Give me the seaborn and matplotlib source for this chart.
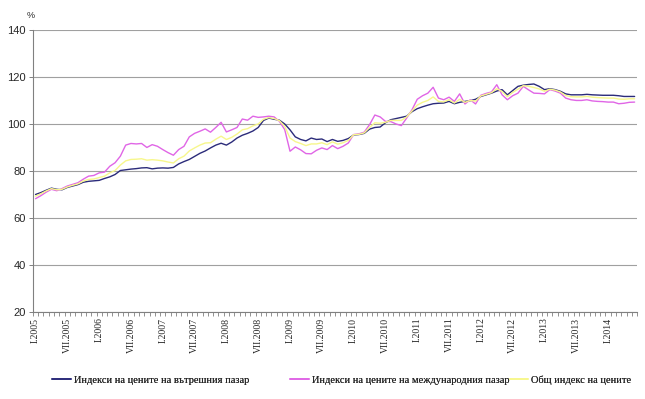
import numpy as np
import pandas as pd
import matplotlib
matplotlib.use("Agg")
import matplotlib.pyplot as plt
import seaborn as sns

# ── Data (monthly, I.2005 – VI.2014) ─────────────────────────────────────────

ROMAN = ["I", "II", "III", "IV", "V", "VI", "VII", "VIII", "IX", "X", "XI", "XII"]
months = [f"{ROMAN[m]}.{y}" for y in range(2005, 2015) for m in range(12)][:114]

domestic = [
    70.0, 70.8, 71.8, 72.7, 72.2, 72.0, 73.0, 73.6, 74.2, 75.2, 75.6, 75.8,
    76.0, 76.8, 77.5, 78.5, 80.2, 80.5, 80.8, 81.0, 81.3, 81.4, 80.9, 81.2,
    81.3, 81.2, 81.5, 83.0, 84.0, 84.9, 86.2, 87.5, 88.5, 89.8, 91.0, 91.8,
    91.0, 92.3, 94.0, 95.2, 96.0, 97.0, 98.5, 101.5, 102.5, 102.0, 101.6, 100.0,
    97.5, 94.5, 93.4, 92.8, 94.0, 93.4, 93.6, 92.5, 93.4, 92.6, 93.0, 93.8,
    95.3, 95.5, 96.0, 97.8, 98.5, 98.7, 100.5, 101.8, 102.3, 102.8, 103.3, 105.2,
    106.5, 107.3, 108.0, 108.6, 108.8, 108.9, 109.6, 108.6, 109.2, 109.6, 109.9, 110.5,
    111.7, 112.4, 113.1, 114.0, 114.6, 112.4, 114.2, 116.0, 116.5, 116.8, 117.0, 116.0,
    114.6, 115.0, 114.6, 113.9, 112.8, 112.4, 112.4, 112.4, 112.6, 112.4, 112.3, 112.2,
    112.2, 112.2, 112.0, 111.7, 111.7, 111.7,
]

international = [
    68.2, 69.5, 71.0, 72.2, 71.6, 72.5, 73.6, 74.3, 75.0, 76.5, 77.8, 78.1,
    79.2, 79.5, 82.0, 83.5, 86.3, 91.0, 91.7, 91.5, 91.7, 90.0, 91.2, 90.5,
    89.1, 87.8, 86.7, 89.1, 90.5, 94.5, 96.0, 96.9, 97.9, 96.5, 98.5, 100.7,
    96.6, 97.5, 98.5, 102.1, 101.6, 103.3, 102.8, 103.0, 103.3, 103.0, 101.1, 97.6,
    88.4, 90.2, 89.0, 87.4, 87.3, 88.8, 89.8, 89.1, 90.8, 89.5, 90.5, 91.9,
    95.5, 95.8, 96.5, 99.7, 103.8, 103.0, 101.1, 101.0, 100.0, 99.3, 102.5, 106.0,
    110.5, 112.0, 113.1, 115.6, 111.0, 110.3, 111.4, 109.6, 112.8, 108.5, 110.3, 108.5,
    112.2, 113.0, 113.6, 116.7, 112.4, 110.3, 112.0, 113.1, 116.0, 114.5, 113.1, 113.0,
    112.8, 114.6, 114.0, 113.1, 111.0, 110.3, 110.0, 110.0, 110.3, 109.8, 109.6, 109.5,
    109.3, 109.3, 108.6, 108.8, 109.2, 109.3,
]

overall = [
    69.3, 70.3, 71.5, 72.5, 72.0, 72.2, 73.2, 73.9, 74.5, 75.7, 76.4, 76.6,
    77.2, 77.8, 79.2, 80.2, 82.5, 84.3, 84.9, 85.0, 85.2, 84.6, 84.8, 84.6,
    84.3, 83.8, 83.4, 85.2, 86.3, 88.5, 89.8, 91.0, 91.9, 92.0, 93.5, 94.8,
    93.4, 94.3, 95.7, 97.5, 98.0, 99.2, 100.0, 102.0, 102.7, 102.3, 101.4, 99.0,
    94.0, 92.5, 91.7, 90.8, 91.5, 91.5, 92.0, 91.2, 92.4, 91.4, 92.0, 93.0,
    95.4, 95.6, 96.2, 98.5, 100.5, 100.3, 100.7, 101.5, 101.5, 101.5, 103.0, 105.5,
    108.0, 109.2, 110.0, 111.5, 109.6, 109.4, 110.3, 108.9, 110.5, 109.2, 110.0, 109.7,
    111.9, 112.6, 113.3, 115.0, 113.8, 111.6, 113.4, 114.8, 116.3, 116.0, 115.5, 114.9,
    113.9, 114.8, 114.4, 113.6, 112.1, 111.6, 111.5, 111.5, 111.7, 111.4, 111.2, 111.1,
    111.0, 111.0, 110.6, 110.5, 110.7, 110.7,
]

LABELS = [
    "Индекси на цените на вътрешния пазар",
    "Индекси на цените на международния пазар",
    "Общ индекс на цените",
]
COLORS = ["#2b2b7a", "#e066e6", "#f7f78c"]
LEGEND_X = [0.081, 0.450, 0.790]   # left edge of each legend entry (figure coords)

# ── Plot ─────────────────────────────────────────────────────────────────────

sns.set_theme(style="white")
plt.rcParams["font.family"] = ["Liberation Serif", "DejaVu Serif"]

df = pd.DataFrame({
    "idx": np.arange(len(months)),
    LABELS[0]: domestic,
    LABELS[1]: international,
    LABELS[2]: overall,
})
long = df.melt(id_vars="idx", var_name="series", value_name="value")

fig = plt.figure(figsize=(6.45, 3.99), dpi=100)
ax = fig.add_axes([0.051, 0.218, 0.937, 0.707])

sns.lineplot(data=long, x="idx", y="value", hue="series", hue_order=LABELS,
             palette=COLORS, linewidth=1.0, ax=ax, legend=False,
             zorder=3)

ax.set_xlim(-0.5, len(months) - 0.5)
ax.set_ylim(20, 140)
ax.set_yticks(range(20, 141, 20))
ax.yaxis.grid(True, color="#a0a0a0", linewidth=0.8)
ax.set_axisbelow(True)
for lab in ax.get_yticklabels():
    lab.set_family(["Liberation Sans", "DejaVu Sans"])
    lab.set_fontsize(8)
ax.tick_params(axis="y", which="major", left=True, length=3, width=0.7,
               color="#808080", pad=2)

# month boundary ticks + labels every six months
ax.set_xticks(np.arange(-0.5, len(months), 1.0), minor=True)
ax.set_xticks(np.arange(0, len(months), 6))
ax.set_xticklabels([months[i] for i in range(0, len(months), 6)],
                   rotation=90, fontsize=7)
ax.tick_params(axis="x", which="major", length=0, pad=4)
ax.tick_params(axis="x", which="minor", bottom=True, length=3, width=0.6,
               color="#808080")

for side in ["top", "right"]:
    ax.spines[side].set_visible(False)
for side in ["left", "bottom"]:
    ax.spines[side].set_color("#808080")
    ax.spines[side].set_linewidth(0.8)

ax.set_xlabel("")
ax.set_ylabel("")
fig.text(0.048, 0.962, "%", fontsize=6.5, family=["Liberation Sans", "DejaVu Sans"],
         ha="center", va="center")

# legend entries placed individually, as in the original
for lab, col, x0 in zip(LABELS, COLORS, LEGEND_X):
    h = plt.Line2D([], [], color=col, linewidth=1.2)
    leg = fig.legend([h], [lab], loc="center left", bbox_to_anchor=(x0, 0.047),
                     frameon=False, fontsize=7.5, handlelength=1.8,
                     handletextpad=0.25, borderpad=0, borderaxespad=0)
    fig.add_artist(leg)

fig.savefig("out.png", dpi=100)
